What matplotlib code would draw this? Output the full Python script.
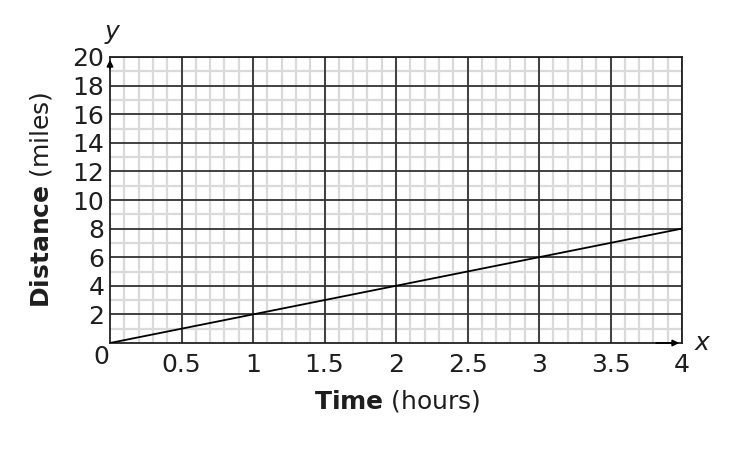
import matplotlib
matplotlib.use("Agg")
import matplotlib.pyplot as plt
import numpy as np

time_hours = [0, 1, 2, 3, 4]
distance_miles = [0, 2, 4, 6, 8]
x_ticks = [0.5, 1, 1.5, 2, 2.5, 3, 3.5, 4]
x_tick_labels = ["0.5", "1", "1.5", "2", "2.5", "3", "3.5", "4"]
y_ticks = [2, 4, 6, 8, 10, 12, 14, 16, 18, 20]
y_tick_labels = ["2", "4", "6", "8", "10", "12", "14", "16", "18", "20"]

plt.rcParams['font.family'] = ['DejaVu Sans']
plt.rcParams['mathtext.fontset'] = 'dejavusans'

FS = 18
TXT = '#1e1e1e'

fig = plt.figure(figsize=(7.5, 4.5), dpi=100)
ax = fig.add_axes([110/750, 1-343/450, (682-110)/750, (343-57)/450])
ax.set_xlim(0, 4)
ax.set_ylim(0, 20)

# minor grid
for xv in np.arange(0.1, 4.0, 0.1):
    ax.axvline(xv, color='#dadada', lw=1.6, zorder=1)
for yv in np.arange(1, 20, 2):
    ax.axhline(yv, color='#dadada', lw=1.6, zorder=1)
# major grid
for xv in x_ticks:
    ax.axvline(xv, color='#333333', lw=1.3, zorder=2)
for yv in y_ticks:
    ax.axhline(yv, color='#333333', lw=1.3, zorder=2)

for s in ax.spines.values():
    s.set_color('#222222')
    s.set_linewidth(1.3)
    s.set_zorder(3)

ax.plot(time_hours, distance_miles, color='black', lw=1.3, zorder=4)

# axis arrows
ax.annotate('', xy=(4, 0), xytext=(3.8, 0),
            arrowprops=dict(arrowstyle='-|>', color='black', lw=1.3, mutation_scale=9),
            annotation_clip=False, zorder=5)
ax.annotate('', xy=(0, 20), xytext=(0, 19),
            arrowprops=dict(arrowstyle='-|>', color='black', lw=1.3, mutation_scale=9),
            annotation_clip=False, zorder=5)

ax.set_xticks(x_ticks)
ax.set_xticklabels(x_tick_labels)
ax.set_yticks(y_ticks)
ax.set_yticklabels(y_tick_labels)
ax.tick_params(length=0, labelsize=FS, colors=TXT)
ax.tick_params(axis='x', pad=7)
ax.tick_params(axis='y', pad=4)

fig.text(101/750, 1-357/450, '0', fontsize=FS, ha='center', va='center', color=TXT)
fig.text(702/750, 1-343/450, 'x', fontsize=FS, style='italic', ha='center', va='center', color=TXT)
fig.text(112/750, 1-32/450, 'y', fontsize=FS, style='italic', ha='center', va='center', color=TXT)

fig.text(397/750, 1-401/450, r'$\bf{Time}$ (hours)', fontsize=FS, color=TXT,
         ha='center', va='center')
fig.text(41/750, 1-200/450, r'$\bf{Distance}$ (miles)', fontsize=FS, color=TXT,
         ha='center', va='center', rotation=90)

fig.savefig('out.png', dpi=100)
